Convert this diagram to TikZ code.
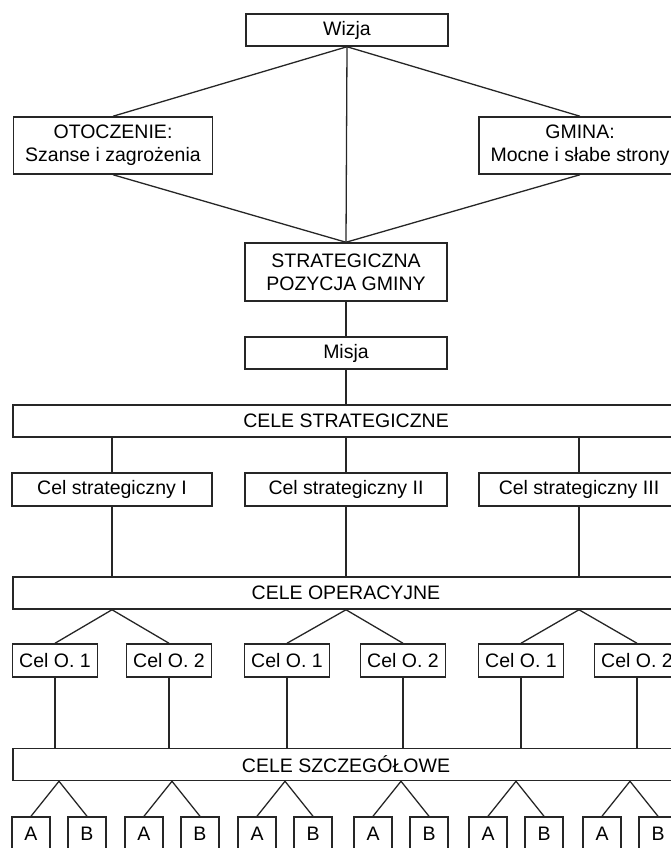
\documentclass[tikz,border=0pt]{standalone}
\usepackage{fontspec}
\setmainfont{Liberation Sans}

\begin{document}
\begin{tikzpicture}[x=1pt, y=-1pt, line width=1.3pt, draw=black!85,
    box/.style={draw, line width=1.5pt, inner sep=0pt, minimum height=32pt, align=center, font=\fontsize{19.5}{23}\selectfont},
    wide/.style={box, minimum width=666pt},
    celo/.style={box, minimum width=85pt, minimum height=33pt},
    ab/.style={box, minimum width=38pt, minimum height=33pt}]

    \useasboundingbox (0,0) rectangle (671,848);
    \clip (0,0) rectangle (671,848);

    \node[box, minimum width=202pt] (wizja) at (347,30) {Wizja};
    \node[box, minimum width=199pt, minimum height=57pt] (otoczenie) at (113,145.5) {OTOCZENIE:\\Szanse i zagrożenia};
    \node[box, minimum width=202pt, minimum height=57pt] (gmina) at (580,145.5) {GMINA:\\Mocne i słabe strony};
    \node[box, minimum width=202pt, minimum height=58pt] (pozycja) at (346,272) {STRATEGICZNA\\POZYCJA GMINY};
    \node[box, minimum width=202pt] (misja) at (346,353) {Misja};

    \draw (wizja.south) -- (pozycja.north);
    \draw (wizja.south) -- (otoczenie.north);
    \draw (wizja.south) -- (gmina.north);
    \draw (otoczenie.south) -- (pozycja.north);
    \draw (gmina.south) -- (pozycja.north);
    \draw (pozycja.south) -- (misja.north);

    \node[wide] (celestrat) at (346,421) {CELE STRATEGICZNE};
    \draw (misja.south) -- (celestrat.north);

    \node[box, minimum width=200pt, minimum height=33pt] (cs1) at (112,489.5) {Cel strategiczny I};
    \node[box, minimum width=202pt, minimum height=33pt] (cs2) at (346,489.5) {Cel strategiczny II};
    \node[box, minimum width=200pt, minimum height=33pt] (cs3) at (579,489.5) {Cel strategiczny III};

    \node[wide] (celeop) at (346,593) {CELE OPERACYJNE};

    \draw (cs1.north) -- (cs1.north |- celestrat.south);
    \draw (cs2.north) -- (cs2.north |- celestrat.south);
    \draw (cs3.north) -- (cs3.north |- celestrat.south);
    \draw (cs1.south) -- (cs1.south |- celeop.north);
    \draw (cs2.south) -- (cs2.south |- celeop.north);
    \draw (cs3.south) -- (cs3.south |- celeop.north);

    \node[celo] (co1) at (55,660.5) {Cel O. 1};
    \node[celo] (co2) at (169,660.5) {Cel O. 2};
    \node[celo] (co3) at (287,660.5) {Cel O. 1};
    \node[celo] (co4) at (403,660.5) {Cel O. 2};
    \node[celo] (co5) at (521,660.5) {Cel O. 1};
    \node[celo] (co6) at (637,660.5) {Cel O. 2};

    \draw (co1.north) -- (cs1.south |- celeop.south) -- (co2.north);
    \draw (co3.north) -- (cs2.south |- celeop.south) -- (co4.north);
    \draw (co5.north) -- (cs3.south |- celeop.south) -- (co6.north);

    \node[wide] (celeszcz) at (346,764.5) {CELE SZCZEGÓŁOWE};

    \draw (co1.south) -- (co1.south |- celeszcz.north);
    \draw (co2.south) -- (co2.south |- celeszcz.north);
    \draw (co3.south) -- (co3.south |- celeszcz.north);
    \draw (co4.south) -- (co4.south |- celeszcz.north);
    \draw (co5.south) -- (co5.south |- celeszcz.north);
    \draw (co6.south) -- (co6.south |- celeszcz.north);

    \node[ab] (a1) at (31,833.5) {A};   \node[ab] (b1) at (87,833.5) {B};
    \node[ab] (a2) at (144,833.5) {A};  \node[ab] (b2) at (200,833.5) {B};
    \node[ab] (a3) at (257,833.5) {A};  \node[ab] (b3) at (313,833.5) {B};
    \node[ab] (a4) at (373,833.5) {A};  \node[ab] (b4) at (429,833.5) {B};
    \node[ab] (a5) at (488,833.5) {A};  \node[ab] (b5) at (544,833.5) {B};
    \node[ab] (a6) at (602,833.5) {A};  \node[ab] (b6) at (658,833.5) {B};

    % branch points under CELE SZCZEGOLOWE
    \coordinate (s1) at (59,0);  \coordinate (s2) at (172,0);
    \coordinate (s3) at (285,0); \coordinate (s4) at (401,0);
    \coordinate (s5) at (516,0); \coordinate (s6) at (630,0);

    \draw (a1.north) -- (s1 |- celeszcz.south) -- (b1.north);
    \draw (a2.north) -- (s2 |- celeszcz.south) -- (b2.north);
    \draw (a3.north) -- (s3 |- celeszcz.south) -- (b3.north);
    \draw (a4.north) -- (s4 |- celeszcz.south) -- (b4.north);
    \draw (a5.north) -- (s5 |- celeszcz.south) -- (b5.north);
    \draw (a6.north) -- (s6 |- celeszcz.south) -- (b6.north);
\end{tikzpicture}
\end{document}
